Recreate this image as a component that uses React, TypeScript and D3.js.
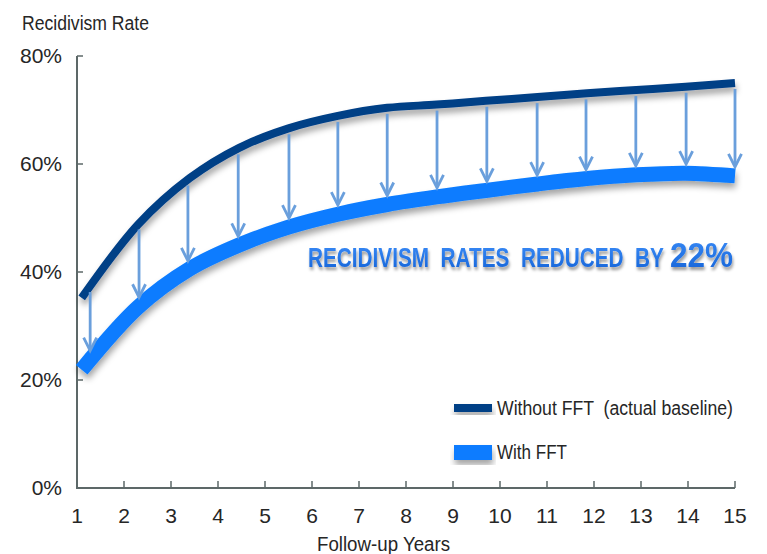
import React, { useRef, useEffect } from 'react';
import * as d3 from 'd3';

// Follow-up years at which the curves were read
const lineYears = [1.1, 2.3, 3.4, 4.45, 5.5, 6.55, 7.6, 8.65, 9.7, 10.8, 11.85, 12.9, 13.95, 15];
// Recidivism rate (%) without FFT (actual baseline)
const withoutFFT = [35.2, 48.8, 57.4, 63.0, 66.6, 68.9, 70.4, 71.0, 71.7, 72.4, 73.1, 73.7, 74.3, 75.0];
// Recidivism rate (%) with FFT
const withFFT = [21.9, 33.5, 40.6, 45.0, 48.3, 50.7, 52.5, 53.9, 55.1, 56.3, 57.3, 58.0, 58.3, 57.8];
// x positions (years) of the reduction arrows
const arrowYears = [1.28, 2.32, 3.36, 4.43, 5.51, 6.55, 7.6, 8.66, 9.72, 10.79, 11.83, 12.89, 13.96, 15];

const xTicks = [1, 2, 3, 4, 5, 6, 7, 8, 9, 10, 11, 12, 13, 14, 15];
const yTicks = [0, 20, 40, 60, 80];

const FONT = "'Liberation Sans Narrow', 'Arial Narrow', 'Liberation Sans', Arial, sans-serif";

const App: React.FC = () => {
  const svgRef = useRef<SVGSVGElement>(null);
  const width = 767;
  const height = 554;

  useEffect(() => {
    if (!svgRef.current) return;
    const root = d3.select(svgRef.current);
    root.selectAll('*').remove();

    const x = d3.scaleLinear().domain([1, 15]).range([77, 735]);
    const y = d3.scaleLinear().domain([0, 80]).range([488, 56]);

    // Shadow filters
    const defs = root.append('defs');
    const sh = defs.append('filter').attr('id', 'shadow')
      .attr('x', '-10%').attr('y', '-30%').attr('width', '120%').attr('height', '160%');
    sh.append('feDropShadow').attr('dx', 1).attr('dy', 5).attr('stdDeviation', 3)
      .attr('flood-color', '#000').attr('flood-opacity', 0.35);
    const tsh = defs.append('filter').attr('id', 'tshadow')
      .attr('x', '-5%').attr('y', '-30%').attr('width', '110%').attr('height', '160%');
    tsh.append('feDropShadow').attr('dx', 1).attr('dy', 3).attr('stdDeviation', 1.5)
      .attr('flood-color', '#000').attr('flood-opacity', 0.4);

    // Axes
    const axisColor = '#5d6868';
    const axes = root.append('g');
    axes.append('line')
      .attr('x1', x(1)).attr('x2', x(1)).attr('y1', y(80)).attr('y2', y(0))
      .attr('stroke', axisColor).attr('stroke-width', 2);
    axes.append('line')
      .attr('x1', x(1) - 1).attr('x2', x(15)).attr('y1', y(0)).attr('y2', y(0))
      .attr('stroke', axisColor).attr('stroke-width', 2);
    axes.selectAll('.yt').data(yTicks).enter().append('line')
      .attr('x1', x(1)).attr('x2', x(1) + 6)
      .attr('y1', (d) => y(d)).attr('y2', (d) => y(d))
      .attr('stroke', axisColor).attr('stroke-width', 1.5);
    axes.selectAll('.xt').data(xTicks).enter().append('line')
      .attr('x1', (d) => x(d)).attr('x2', (d) => x(d))
      .attr('y1', y(0)).attr('y2', y(0) - 7)
      .attr('stroke', axisColor).attr('stroke-width', 1.5);

    // Tick labels
    root.append('g').selectAll('text').data(yTicks).enter().append('text')
      .attr('x', 62).attr('y', (d) => y(d) + 7)
      .attr('text-anchor', 'end')
      .attr('font-family', FONT).attr('font-size', 21).attr('fill', '#262626')
      .text((d) => `${d}%`);
    root.append('g').selectAll('text').data(xTicks).enter().append('text')
      .attr('x', (d) => x(d)).attr('y', 523)
      .attr('text-anchor', 'middle')
      .attr('font-family', FONT).attr('font-size', 21).attr('fill', '#262626')
      .text((d) => `${d}`);

    // Axis titles
    root.append('text').attr('x', 22).attr('y', 30)
      .attr('font-family', FONT).attr('font-size', 20).attr('fill', '#262626')
      .attr('textLength', 127).attr('lengthAdjust', 'spacingAndGlyphs')
      .text('Recidivism Rate');
    root.append('text').attr('x', 317).attr('y', 551)
      .attr('font-family', FONT).attr('font-size', 20).attr('fill', '#262626')
      .attr('textLength', 133).attr('lengthAdjust', 'spacingAndGlyphs')
      .text('Follow-up Years');

    // Lines
    const line = d3.line<number>()
      .x((_, i) => x(lineYears[i]))
      .y((d) => y(d))
      .curve(d3.curveCatmullRom.alpha(0.5));

    const lightPath = root.append('path').datum(withFFT)
      .attr('d', line).attr('fill', 'none')
      .attr('stroke', '#0a7cff').attr('stroke-width', 15)
      .attr('filter', 'url(#shadow)');
    const darkPath = root.append('path').datum(withoutFFT)
      .attr('d', line).attr('fill', 'none')
      .attr('stroke', '#053f86').attr('stroke-width', 8)
      .attr('filter', 'url(#shadow)');

    const yAt = (node: SVGPathElement, px: number) => {
      const len = node.getTotalLength();
      let lo = 0;
      let hi = len;
      let p = node.getPointAtLength(0);
      for (let k = 0; k < 40; k++) {
        const mid = (lo + hi) / 2;
        p = node.getPointAtLength(mid);
        if (p.x < px) lo = mid; else hi = mid;
      }
      return p.y;
    };

    // Arrows
    const arrowColor = '#6a9fdc';
    const arrows = root.append('g');
    arrowYears.forEach((yr) => {
      const px = x(yr);
      const top = yAt(darkPath.node() as SVGPathElement, px) + 6;
      const tip = yAt(lightPath.node() as SVGPathElement, px) - 9;
      arrows.append('line')
        .attr('x1', px).attr('x2', px).attr('y1', top).attr('y2', tip - 1)
        .attr('stroke', arrowColor).attr('stroke-width', 2.8);
      arrows.append('path')
        .attr('d', `M${px - 6.5},${tip - 13}L${px},${tip}L${px + 6.5},${tip - 13}`)
        .attr('fill', 'none').attr('stroke', arrowColor).attr('stroke-width', 2.8)
        .attr('stroke-linejoin', 'miter');
    });

    // Annotation: condensed by a horizontal scale fitted to the measured width
    const grad = defs.append('linearGradient').attr('id', 'tgrad')
      .attr('x1', 0).attr('x2', 0).attr('y1', 0).attr('y2', 1);
    grad.append('stop').attr('offset', '0%').attr('stop-color', '#3a8cf8');
    grad.append('stop').attr('offset', '100%').attr('stop-color', '#1462d6');
    const fitText = (txt: string, left: number, base: number, size: number, w: number) => {
      const g = root.append('g').attr('filter', 'url(#tshadow)');
      const t = g.append('text').attr('x', 0).attr('y', 0)
        .attr('font-family', FONT).attr('font-weight', 'bold').attr('font-size', size)
        .attr('fill', 'url(#tgrad)')
        .style('white-space', 'pre')
        .text(txt);
      const natural = (t.node() as SVGTextElement).getComputedTextLength() || w;
      t.attr('transform', `translate(${left},${base}) scale(${w / natural},1)`);
    };
    fitText('RECIDIVISM  RATES  REDUCED  BY', 308, 267, 27, 356);
    fitText('22%', 670, 267, 36, 63);

    // Legend
    const legend = root.append('g');
    legend.append('rect').attr('x', 454).attr('y', 404).attr('width', 38).attr('height', 8)
      .attr('fill', '#053f86').attr('filter', 'url(#shadow)');
    legend.append('text').attr('x', 497).attr('y', 415)
      .attr('font-family', FONT).attr('font-size', 20).attr('fill', '#262626')
      .attr('textLength', 236).attr('lengthAdjust', 'spacingAndGlyphs')
      .style('white-space', 'pre')
      .text('Without FFT  (actual baseline)');
    legend.append('rect').attr('x', 454).attr('y', 445).attr('width', 38).attr('height', 15)
      .attr('fill', '#0a7cff').attr('filter', 'url(#shadow)');
    legend.append('text').attr('x', 497).attr('y', 459)
      .attr('font-family', FONT).attr('font-size', 20).attr('fill', '#262626')
      .attr('textLength', 70).attr('lengthAdjust', 'spacingAndGlyphs')
      .text('With FFT');
  }, []);

  return (
    <svg
      ref={svgRef}
      width={width}
      height={height}
      style={{ position: 'absolute', left: 0, top: 0, background: '#fff' }}
    />
  );
};

export default App;
